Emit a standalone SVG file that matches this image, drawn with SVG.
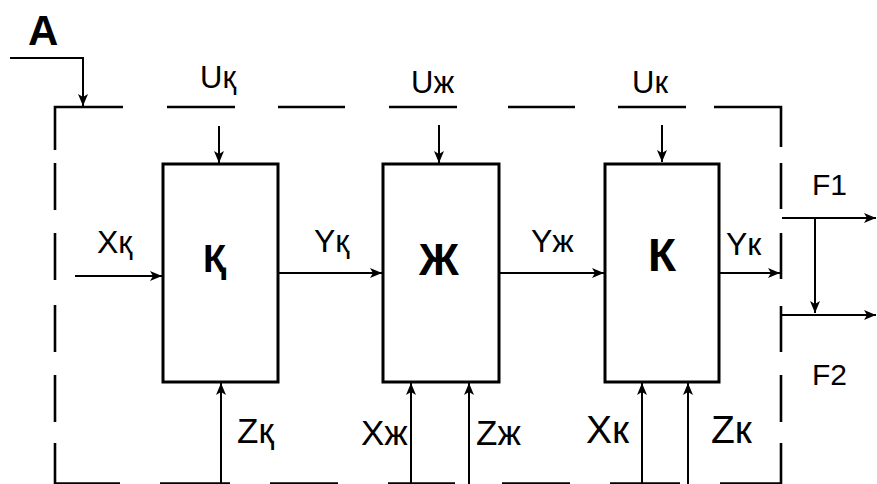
<svg xmlns="http://www.w3.org/2000/svg" width="877" height="484" viewBox="0 0 877 484">
  <style>
    .box { fill: #fff; stroke: #000; stroke-width: 3; }
    .bnd { fill: none; stroke: #000; stroke-width: 2.6; }
    .con { fill: none; stroke: #000; stroke-width: 2; }
    .lbl { font-family: "Liberation Sans", Arial, sans-serif; fill: #000; }
    .big { font-family: "Liberation Sans", Arial, sans-serif; font-weight: bold; fill: #000; }
  </style>
  <defs>
    <marker id="arr" markerUnits="userSpaceOnUse" markerWidth="14" markerHeight="12" refX="12" refY="5" orient="auto">
      <path d="M0,0 L12,5 L0,10 L3,5 z" fill="#000"/>
    </marker>
  </defs>
  <rect width="877" height="484" fill="#fff"/>

  <g id="boundary" class="bnd">
    <path d="M55,150 V107 H123 M167,107 H235 M278,107 H345 M389,107 H457 M508,107 H575 M618,107 H686 M714,107 H781 V147 M781,163 V209 M781,233 V279 M781,306 V352 M781,375 V422 M781,443 V484 M55,163 V210 M55,233 V280 M55,305 V352 M55,375 V422 M55,443 V484 M55,483.5 H120 M160,483.5 H230 M270,483.5 H338 M388,483.5 H455 M502,483.5 H570 M610,483.5 H680 M720,483.5 H781"/>
  </g>

  <g id="connectors" class="con">
    <path d="M10,58 H83 V106" marker-end="url(#arr)"/>
    <path d="M219,126 V163" marker-end="url(#arr)"/>
    <path d="M439,125 V163" marker-end="url(#arr)"/>
    <path d="M662,125 V162" marker-end="url(#arr)"/>
    <path d="M75,276 H162" marker-end="url(#arr)"/>
    <path d="M279,273 H382" marker-end="url(#arr)"/>
    <path d="M500,273 H604" marker-end="url(#arr)"/>
    <path d="M720,273 H780" marker-end="url(#arr)"/>
    <path d="M782,218 H876" marker-end="url(#arr)"/>
    <path d="M815,218 V313" marker-end="url(#arr)"/>
    <path d="M782,315 H876" marker-end="url(#arr)"/>
    <path d="M221,484 V383" marker-end="url(#arr)"/>
    <path d="M411,484 V383" marker-end="url(#arr)"/>
    <path d="M469,484 V383" marker-end="url(#arr)"/>
    <path d="M642,484 V383" marker-end="url(#arr)"/>
    <path d="M688,484 V383" marker-end="url(#arr)"/>
  </g>

  <g id="node-q">
    <rect class="box" x="163" y="164" width="115" height="218"/>
    <text class="big" x="203" y="272" font-size="38">Қ</text>
  </g>
  <g id="node-zh">
    <rect class="box" x="383" y="164" width="116" height="218"/>
    <text class="big" x="419" y="275" font-size="44">Ж</text>
  </g>
  <g id="node-k">
    <rect class="box" x="605" y="164" width="114" height="218"/>
    <text class="big" x="648" y="271" font-size="46">К</text>
  </g>

  <g id="labels" class="lbl">
    <text x="28" y="45" font-size="42" font-weight="bold">A</text>
    <text x="200" y="88" font-size="31">Uқ</text>
    <text x="411" y="93" font-size="31">Uж</text>
    <text x="632" y="93" font-size="31">Uк</text>
    <text x="97" y="253" font-size="32">Xқ</text>
    <text x="314" y="252" font-size="32">Yқ</text>
    <text x="531" y="252" font-size="32">Yж</text>
    <text x="726" y="255" font-size="32">Yк</text>
    <text x="812" y="195" font-size="30">F1</text>
    <text x="812" y="385" font-size="30">F2</text>
    <text x="237" y="443" font-size="35">Zқ</text>
    <text x="361" y="445" font-size="35">Xж</text>
    <text x="476" y="445" font-size="35">Zж</text>
    <text x="586" y="443" font-size="39">Xк</text>
    <text x="711" y="443" font-size="39">Zк</text>
  </g>
</svg>
